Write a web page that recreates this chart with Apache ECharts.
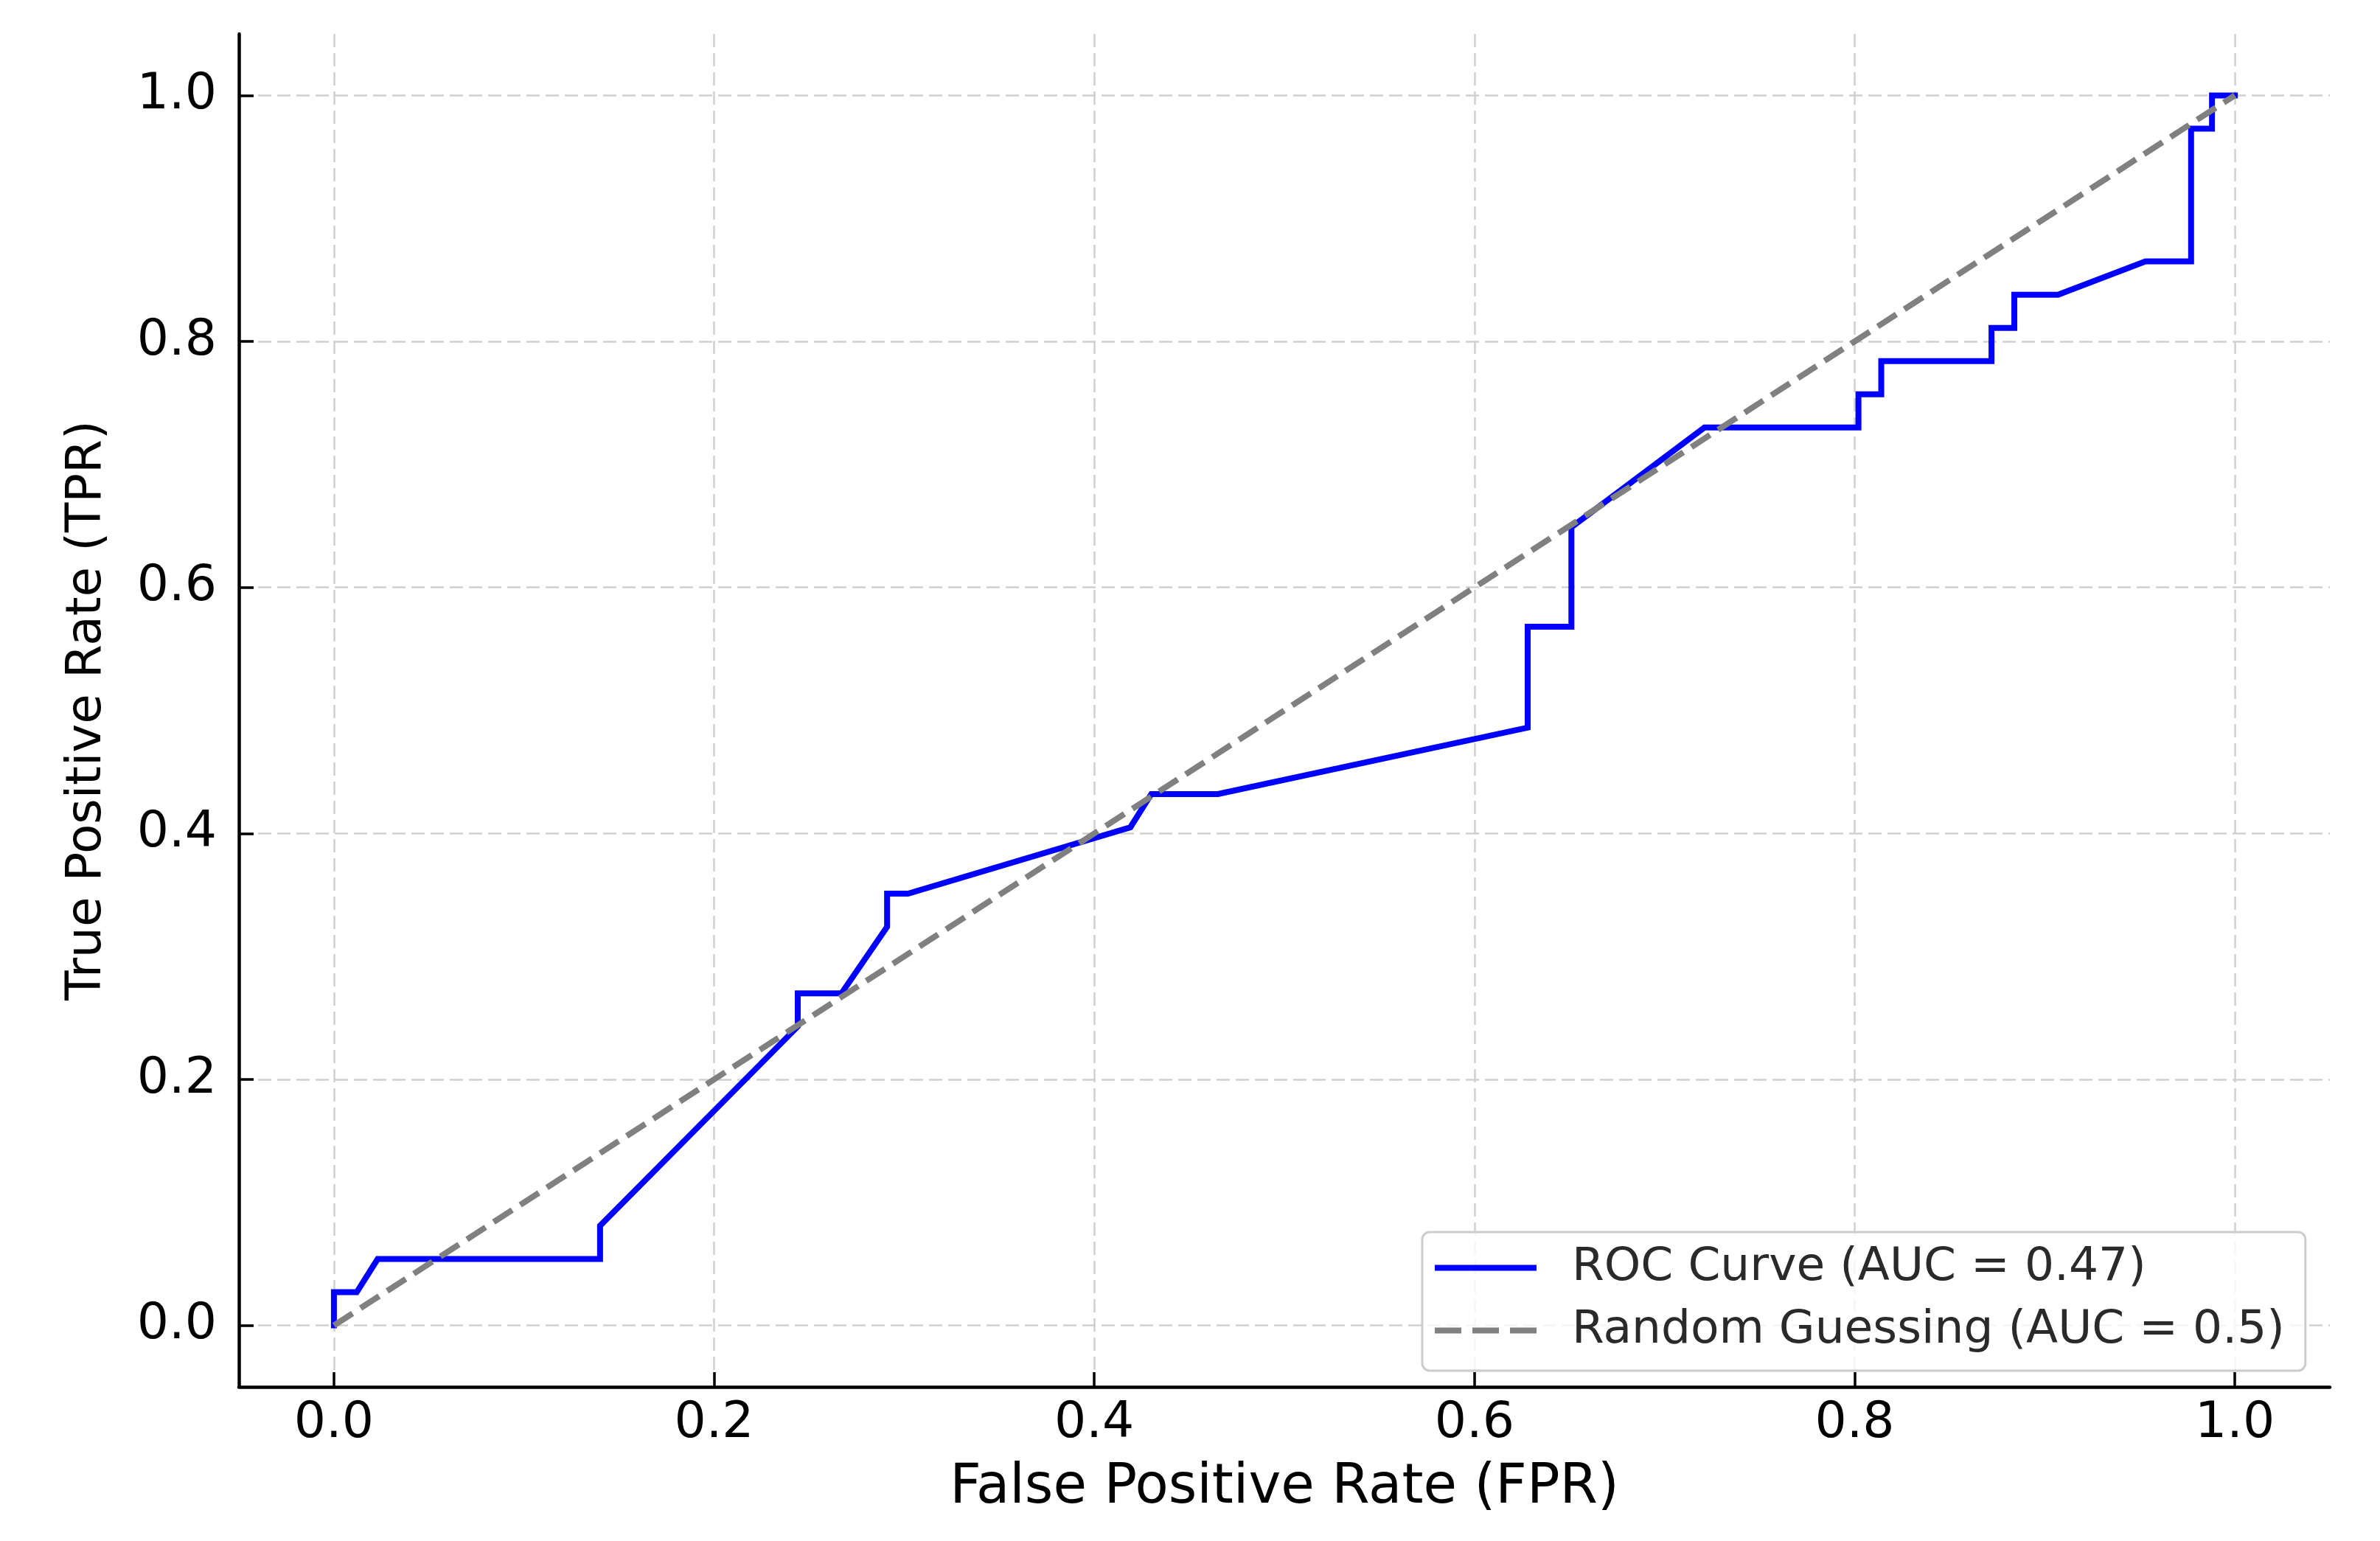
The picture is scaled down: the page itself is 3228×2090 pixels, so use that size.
<!DOCTYPE html>
<html>
<head>
<meta charset="utf-8">
<script src="https://cdn.jsdelivr.net/npm/echarts@6/dist/echarts.min.js"></script>
<style>
html,body{margin:0;padding:0;background:#fff;}
#chart{width:3228px;height:2090px;}
</style>
</head>
<body>
<div id="chart"></div>
<script>
// ROC curve corner points
var fpr = [0, 0, 0.012, 0.023, 0.140, 0.140, 0.244, 0.244, 0.267, 0.291, 0.291, 0.302, 0.419, 0.430, 0.465, 0.628, 0.628, 0.651, 0.651, 0.721, 0.802, 0.802, 0.814, 0.814, 0.872, 0.872, 0.884, 0.884, 0.907, 0.953, 0.977, 0.977, 0.988, 0.988, 1.0];
var tpr = [0, 0.027, 0.027, 0.054, 0.054, 0.081, 0.243, 0.270, 0.270, 0.324, 0.351, 0.351, 0.405, 0.432, 0.432, 0.486, 0.568, 0.568, 0.649, 0.730, 0.730, 0.757, 0.757, 0.784, 0.784, 0.811, 0.811, 0.838, 0.838, 0.865, 0.865, 0.973, 0.973, 1.0, 1.0];
var randX = [0, 1];
var randY = [0, 1];
var tickValues = [0, 0.2, 0.4, 0.6, 0.8, 1.0];
var seriesNames = ['ROC Curve (AUC = 0.47)', 'Random Guessing (AUC = 0.5)'];
var xTitle = 'False Positive Rate (FPR)';
var yTitle = 'True Positive Rate (TPR)';

var FONT = 'DejaVu Sans';
function zip(a, b) { return a.map(function (v, i) { return [v, b[i]]; }); }

function axisCommon(name, isX) {
  return {
    type: 'value',
    min: -0.05,
    max: 1.05,
    name: name,
    nameLocation: 'middle',
    nameGap: isX ? 101 : 172,
    nameTextStyle: { fontFamily: FONT, fontSize: isX ? 74 : 66, color: '#000' },
    axisLine: { show: true, onZero: false, lineStyle: { color: '#000', width: 4.5 } },
    axisTick: { show: true, inside: true, length: 20, customValues: tickValues, lineStyle: { color: '#000', width: 3.5 } },
    axisLabel: {
      show: true, customValues: tickValues, margin: isX ? 16 : 30,
      fontFamily: FONT, fontSize: 68, color: '#000',
      formatter: function (v) { return Number(v).toFixed(1); }
    },
    splitLine: { show: true, lineStyle: { color: '#d0d0d0', width: 2.5, type: [18, 8] } }
  };
}

var chart = echarts.init(document.getElementById('chart'), null, { renderer: 'canvas' });
chart.setOption({
  animation: false,
  backgroundColor: '#ffffff',
  grid: { left: 324, right: 68, top: 46, bottom: 209, containLabel: false },
  xAxis: axisCommon(xTitle, true),
  yAxis: axisCommon(yTitle, false),
  legend: {
    orient: 'vertical',
    left: 1929,
    top: 1671,
    padding: [17, 28, 23, 17],
    itemGap: 22,
    itemWidth: 138,
    itemHeight: 8,
    backgroundColor: 'rgba(255,255,255,0.8)',
    borderColor: '#cccccc',
    borderWidth: 3,
    borderRadius: 10,
    textStyle: { fontFamily: FONT, fontSize: 63, color: '#2a2a2a', lineHeight: 60, padding: [0, 0, 0, 43] },
    data: [
      { name: seriesNames[0], icon: 'rect' },
      { name: seriesNames[1], icon: 'path://M0,0H36V8H0Z M51,0H87V8H51Z M102,0H138V8H102Z' }
    ]
  },
  series: [
    {
      name: seriesNames[0],
      type: 'line',
      data: zip(fpr, tpr),
      symbol: 'none',
      lineStyle: { color: '#0000ff', width: 8, cap: 'square', join: 'miter' },
      itemStyle: { color: '#0000ff' }
    },
    {
      name: seriesNames[1],
      type: 'line',
      data: zip(randX, randY),
      symbol: 'none',
      lineStyle: { color: '#808080', width: 8, type: [30, 13], cap: 'butt' },
      itemStyle: { color: '#808080' }
    }
  ]
});
</script>
</body>
</html>
